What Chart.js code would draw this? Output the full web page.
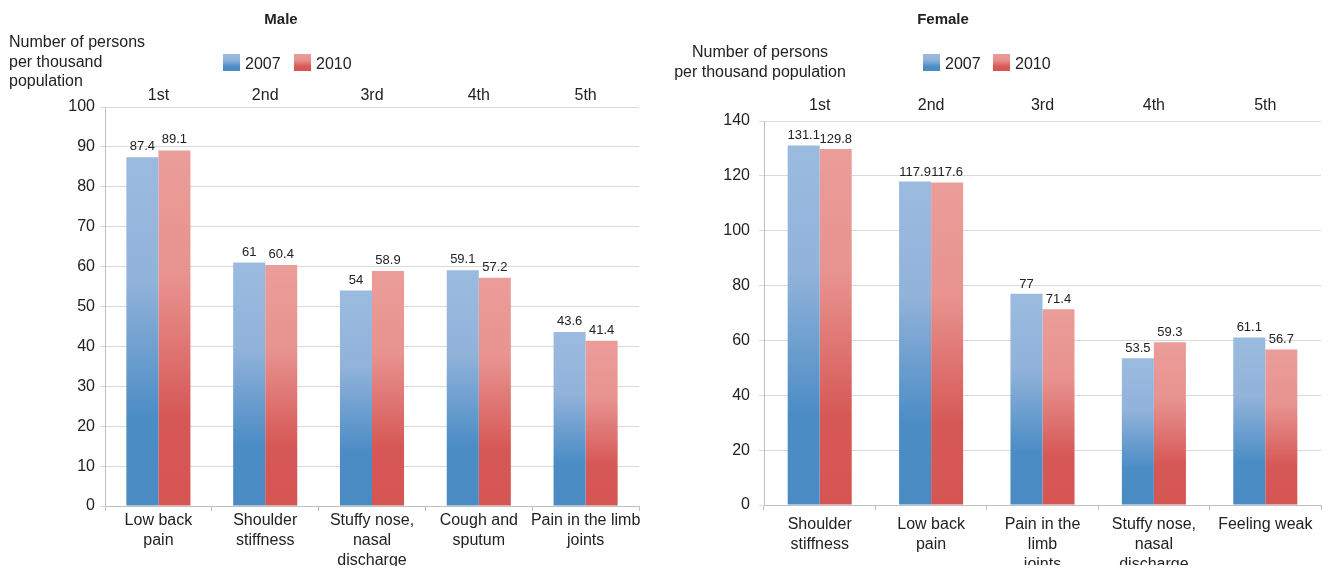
<!DOCTYPE html>
<html>
<head>
<meta charset="utf-8">
<script src="https://cdn.jsdelivr.net/npm/chart.js@4"></script>
<style>
    body { margin: 0; background: #fff; }
    .wrap { position: absolute; top: 0; width: 668px; height: 571px; }
</style>
</head>
<body>
<div class="wrap" style="left:0"><canvas id="male"></canvas></div>
<div class="wrap" style="left:668px"><canvas id="female"></canvas></div>
<script>
// data
const years = ['2007', '2010'];
const ranks = ['1st', '2nd', '3rd', '4th', '5th'];

const maleSymptoms = [['Low back', 'pain'], ['Shoulder', 'stiffness'], ['Stuffy nose,', 'nasal', 'discharge'], ['Cough and', 'sputum'], ['Pain in the limb', 'joints']];
const male2007 = [87.4, 61, 54, 59.1, 43.6];
const male2010 = [89.1, 60.4, 58.9, 57.2, 41.4];
const maleTicks = [0, 10, 20, 30, 40, 50, 60, 70, 80, 90, 100];

const femaleSymptoms = [['Shoulder', 'stiffness'], ['Low back', 'pain'], ['Pain in the', 'limb', 'joints'], ['Stuffy nose,', 'nasal', 'discharge'], ['Feeling weak']];
const female2007 = [131.1, 117.9, 77, 53.5, 61.1];
const female2010 = [129.8, 117.6, 71.4, 59.3, 56.7];
const femaleTicks = [0, 20, 40, 60, 80, 100, 120, 140];

const FONT = '"Liberation Sans", Arial, Helvetica, sans-serif';
const TEXT = '#222';
const blueStops = ['#9bbadf', '#92b3da', '#4b8cc5', '#4a8bc4'];
const redStops = ['#eb9d99', '#e8938f', '#d65856', '#d55553'];

function addStops(g, stops) {
    g.addColorStop(0, stops[0]);
    g.addColorStop(0.35, stops[1]);
    g.addColorStop(0.75, stops[2]);
    g.addColorStop(1, stops[3]);
    return g;
}

// vertical gradient per bar, light at the top, dark at the base
function barFill(stops) {
    return (ctx) => {
        const chart = ctx.chart;
        const y = chart.scales.y;
        if (ctx.type !== 'data' || !chart.chartArea || !y) return stops[3];
        const top = y.getPixelForValue(ctx.raw);
        const base = y.getPixelForValue(0);
        return addStops(chart.ctx.createLinearGradient(0, top, 0, base), stops);
    };
}

const decor = {
    id: 'decor',
    afterDatasetsDraw(chart, args, o) {
        const c = chart.ctx;
        c.save();
        c.font = '13px ' + FONT;
        c.fillStyle = TEXT;
        c.textAlign = 'center';
        c.textBaseline = 'alphabetic';
        chart.data.datasets.forEach((ds, i) => {
            chart.getDatasetMeta(i).data.forEach((bar, j) => {
                c.fillText(String(ds.data[j]), bar.x, bar.y - o.valueGap);
            });
        });
        c.restore();
    },
    afterDraw(chart, args, o) {
        const c = chart.ctx;
        c.save();
        c.fillStyle = TEXT;
        c.textBaseline = 'alphabetic';
        // title
        c.font = 'bold 15px ' + FONT;
        c.textAlign = 'center';
        c.fillText(o.title, o.titleX, 24);
        // y axis title
        c.font = '16px ' + FONT;
        c.textAlign = o.yTitleAlign;
        o.yTitle.forEach((line, i) => c.fillText(line, o.yTitleX, o.yTitleY + i * o.yTitleStep));
        // legend
        years.forEach((yr, i) => {
            const bx = o.legendX[i];
            c.fillStyle = addStops(c.createLinearGradient(0, 54, 0, 71), i === 0 ? blueStops : redStops);
            c.fillRect(bx, 54, 17, 17);
            c.fillStyle = TEXT;
            c.textAlign = 'left';
            c.fillText(yr, bx + 22, 69);
        });
        c.restore();
    }
};

function makeChart(id, symptoms, d2007, d2010, ticks, lay) {
    const tickFont = { family: FONT, size: 16 };
    new Chart(document.getElementById(id), {
        type: 'bar',
        data: {
            labels: symptoms,
            datasets: [
                { label: years[0], data: d2007, backgroundColor: barFill(blueStops), categoryPercentage: lay.catPct, barPercentage: 1 },
                { label: years[1], data: d2010, backgroundColor: barFill(redStops), categoryPercentage: lay.catPct, barPercentage: 1 }
            ]
        },
        options: {
            responsive: true,
            maintainAspectRatio: false,
            animation: false,
            layout: { padding: lay.padding },
            plugins: {
                legend: { display: false },
                title: { display: false },
                tooltip: { enabled: false },
                decor: lay.decor
            },
            scales: {
                x: {
                    offset: true,
                    grid: { display: true, drawOnChartArea: false, offset: true, tickLength: 5, color: '#bfbfbf' },
                    border: { color: '#bfbfbf' },
                    ticks: { font: { family: FONT, size: 16, lineHeight: 1.25 }, color: TEXT, padding: lay.xPad, maxRotation: 0, autoSkip: false },
                    afterFit: (s) => { s.height = 60; }
                },
                x2: {
                    type: 'category',
                    labels: ranks,
                    position: 'top',
                    offset: true,
                    grid: { display: false, drawTicks: false },
                    border: { display: false },
                    ticks: { font: tickFont, color: TEXT, padding: lay.x2Pad },
                    afterFit: (s) => { s.height = 24; }
                },
                y: {
                    min: ticks[0],
                    max: ticks[ticks.length - 1],
                    afterBuildTicks: (s) => { s.ticks = ticks.map(v => ({ value: v })); },
                    grid: { color: '#d9d9d9', tickLength: 5 },
                    border: { color: '#bfbfbf' },
                    ticks: { font: tickFont, color: TEXT, padding: lay.yPad },
                    afterFit: (s) => { s.width = lay.yWidth; }
                }
            }
        },
        plugins: [decor]
    });
}

makeChart('male', maleSymptoms, male2007, male2010, maleTicks, {
    catPct: 0.6,
    padding: { left: 65, right: 29, top: 83, bottom: 5 },
    xPad: 0, x2Pad: 2, yPad: 5, yWidth: 40,
    decor: {
        title: 'Male', titleX: 281,
        yTitle: ['Number of persons', 'per thousand', 'population'],
        yTitleAlign: 'left', yTitleX: 9, yTitleY: 47, yTitleStep: 19.5,
        legendX: [223, 294],
        valueGap: 7
    }
});

makeChart('female', femaleSymptoms, female2007, female2010, femaleTicks, {
    catPct: 0.575,
    padding: { left: 51, right: 15, top: 97, bottom: 6 },
    xPad: 5, x2Pad: 6, yPad: 9, yWidth: 45,
    decor: {
        title: 'Female', titleX: 275,
        yTitle: ['Number of persons', 'per thousand population'],
        yTitleAlign: 'center', yTitleX: 92, yTitleY: 57, yTitleStep: 20,
        legendX: [255, 325],
        valueGap: 6
    }
});
</script>
</body>
</html>
